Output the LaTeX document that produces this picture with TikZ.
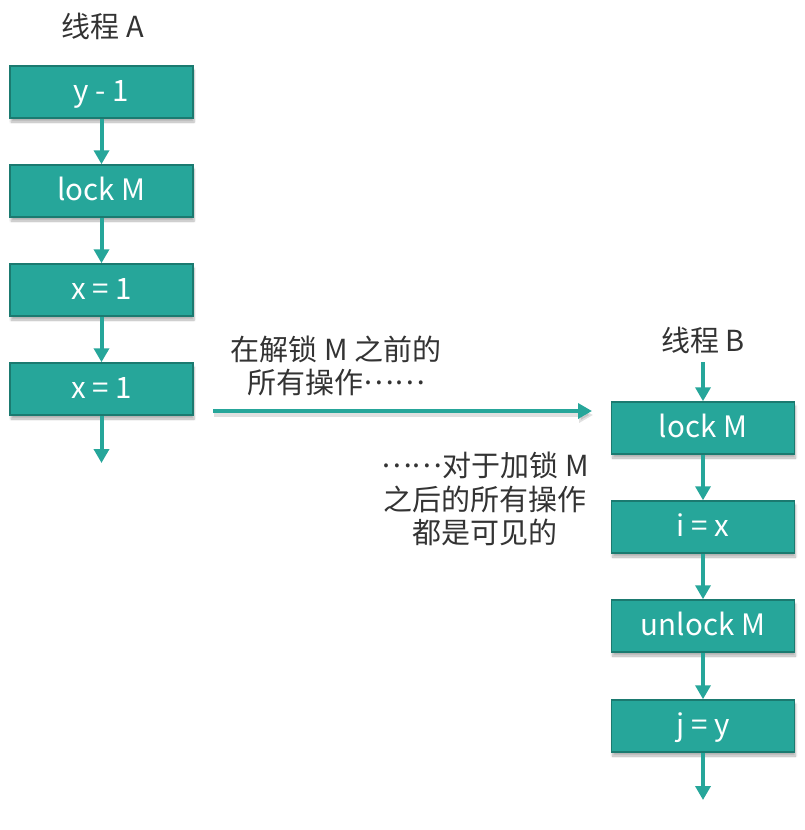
\documentclass[tikz,border=0pt]{standalone}
\usepackage{fontspec}
\setmainfont{Noto Sans CJK SC}
\usetikzlibrary{arrows.meta,shadows.blur}
\definecolor{tealfill}{HTML}{26A69A}
\definecolor{tealedge}{HTML}{1B7A70}
\definecolor{txt}{HTML}{333333}
\newcommand{\midell}{\raisebox{0.32em}[0.5em][0pt]{……}}
\tikzset{
  opbox/.style={rectangle, minimum width=183pt, minimum height=52pt, fill=tealfill, draw=tealedge, line width=1.5pt, text=white, inner sep=0pt, text height=19pt, text depth=0pt, font=\fontsize{29.5}{34}\selectfont, blur shadow={shadow xshift=1pt, shadow yshift=-4pt, shadow blur steps=6, shadow opacity=30}},
  flow/.style={draw=tealfill, line width=4pt, -{Triangle[length=14pt,width=15pt]}},
  lbl/.style={text=txt, font=\fontsize{29}{33.5}\selectfont, align=center, inner sep=0pt}
}
\begin{document}
\begin{tikzpicture}[x=1pt,y=1pt]
\useasboundingbox (0,0) rectangle (804,-830);
% thread A
\node[lbl] (ta) at (103,-26) {线程 A};
\node[opbox] (a1) at (101.5,-92) {y - 1};
\node[opbox] (a2) at (101.5,-191) {lock M};
\node[opbox] (a3) at (101.5,-290) {x = 1};
\node[opbox] (a4) at (101.5,-389) {x = 1};
\coordinate (aend) at (101.5,-463);
\draw[flow] (a1) -- (a2);
\draw[flow] (a2) -- (a3);
\draw[flow] (a3) -- (a4);
\draw[flow] (a4) -- (aend);
% thread B
\node[lbl] (tb) at (703,-340) {线程 B};
\coordinate (bstart) at (703,-362);
\node[opbox] (b1) at (703,-428) {lock M};
\node[opbox] (b2) at (703,-527) {i = x};
\node[opbox] (b3) at (703,-626) {unlock M};
\node[opbox] (b4) at (703,-726) {j = y};
\coordinate (bend) at (703,-800);
\draw[flow] (bstart) -- (b1);
\draw[flow] (b1) -- (b2);
\draw[flow] (b2) -- (b3);
\draw[flow] (b3) -- (b4);
\draw[flow] (b4) -- (bend);
% happens-before arrow
\coordinate (hs) at (213,-411);
\coordinate (he) at (592,-411);
\draw[black, opacity=0.12, line width=4pt, -{Triangle[length=14pt,width=15pt]}, transform canvas={xshift=1pt,yshift=-4pt}] (hs) -- (he);
\draw[flow] (hs) -- (he);
\node[lbl] (t1) at (336,-366) {在解锁 M 之前的\\所有操作\midell};
\node[lbl] (t2) at (485,-499) {\midell 对于加锁 M\\之后的所有操作\\都是可见的};
\end{tikzpicture}
\end{document}
